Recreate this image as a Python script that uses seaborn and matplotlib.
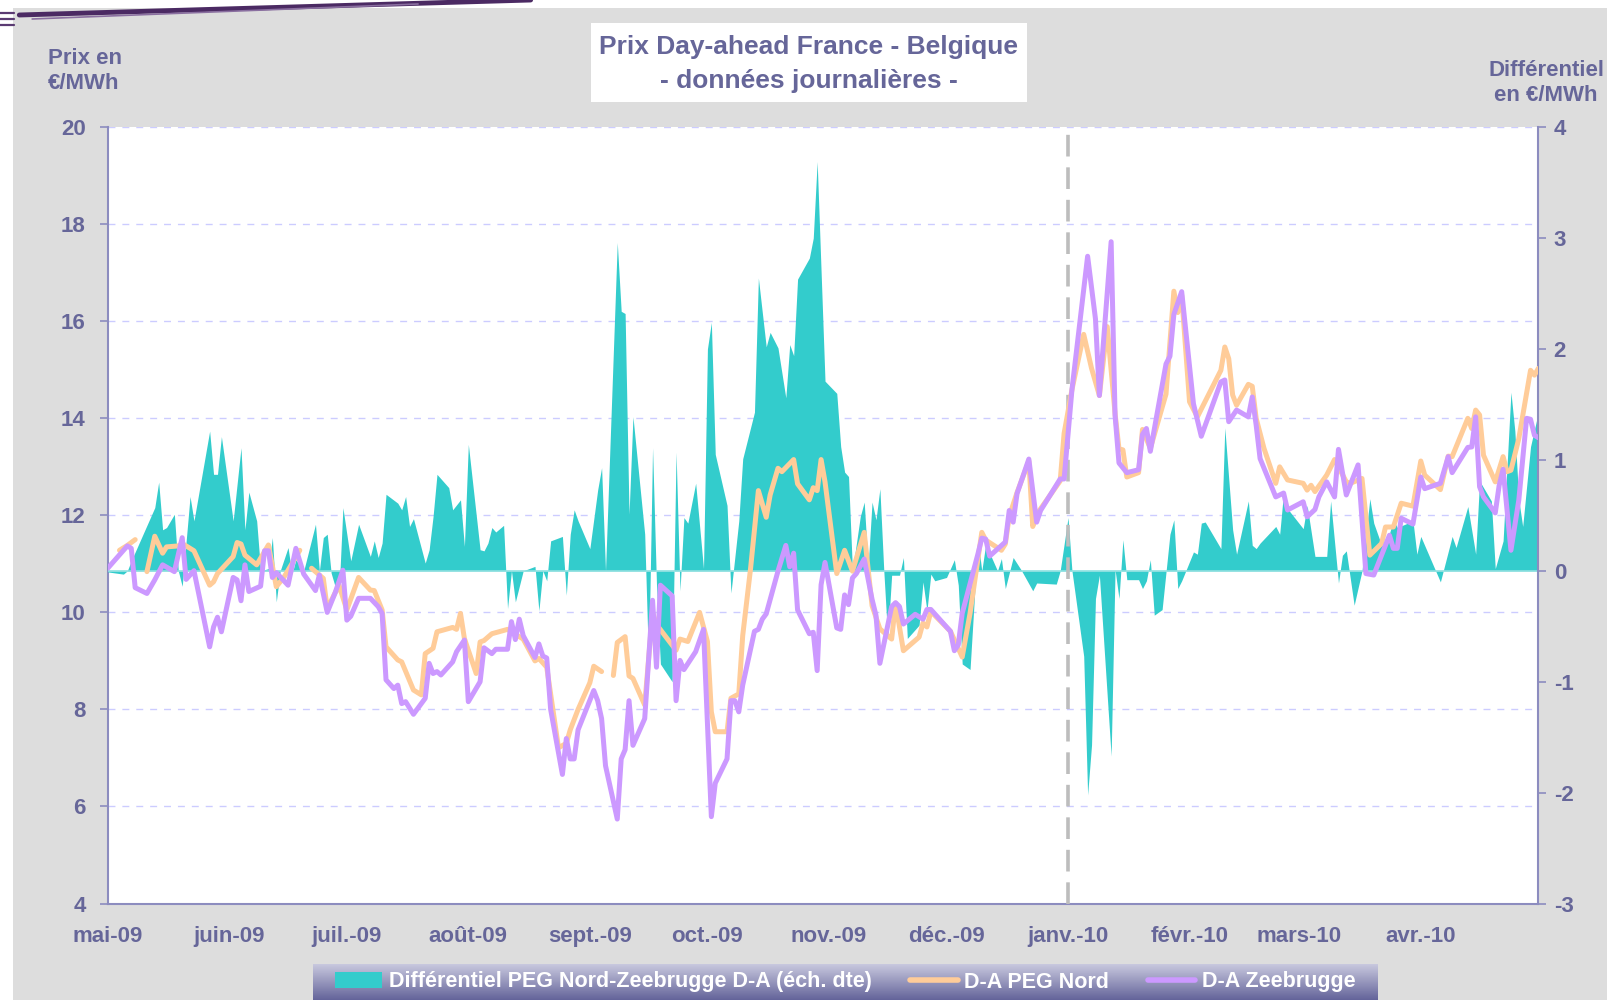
"""
Prix Day-ahead France - Belgique, données journalières (mai 2009 - avril 2010).
"""

import matplotlib

matplotlib.use("Agg")
import matplotlib.pyplot as plt
from matplotlib.colors import LinearSegmentedColormap
from matplotlib.lines import Line2D
from matplotlib.patches import Patch, Rectangle
import numpy as np
import pandas as pd
import seaborn as sns

nan = float("nan")
START = pd.Timestamp("2009-05-01")

# (jours depuis le 1er mai 2009, €/MWh)
zeebrugge_pts = [
    (0, 10.91), (5, 11.37), (6, 11.32), (7, 10.51), (10, 10.39), (12, 10.67), (14, 10.98),
    (17, 10.84), (19, 11.54), (20, 10.68), (22, 10.86), (26, 9.29), (27, 9.70), (28, 9.90),
    (29, 9.60), (32, 10.72), (33, 10.67), (34, 10.24), (35, 10.98), (36, 10.43), (39, 10.54),
    (40, 11.27), (41, 11.27), (42, 10.72), (43, 10.82), (46, 10.56), (48, 11.32), (50, 10.79),
    (53, 10.45), (54, 10.77), (56, 10.00), (58, 10.40), (60, 10.87), (61, 9.84), (62, 9.92),
    (64, 10.29), (67, 10.29), (69, 10.12), (70, 9.98), (71, 8.61), (73, 8.43), (74, 8.50),
    (75, 8.12), (76, 8.16), (78, 7.90), (81, 8.23), (82, 8.95), (83, 8.74), (84, 8.78),
    (85, 8.71), (88, 8.98), (89, 9.19), (91, 9.43), (92, 8.16), (95, 8.57), (96, 9.27),
    (98, 9.15), (99, 9.24), (102, 9.24), (103, 9.81), (104, 9.44), (105, 9.86), (106, 9.52),
    (109, 9.07), (110, 9.35), (111, 9.10), (112, 9.06), (113, 8.00), (116, 6.66), (117, 7.40),
    (118, 6.98), (119, 6.98), (120, 7.58), (124, 8.39), (125, 8.18), (126, 7.81), (127, 6.84),
    (130, 5.74), (131, 6.98), (132, 7.17), (133, 8.18), (134, 7.26), (137, 7.81), (139, 10.25),
    (140, 8.87), (141, 10.56), (144, 10.34), (145, 8.18), (146, 9.01), (147, 8.82), (150, 9.19),
    (152, 9.65), (154, 5.79), (155, 6.48), (158, 6.98), (159, 8.18), (160, 8.18), (161, 7.95),
    (162, 8.50), (165, 9.61), (166, 9.65), (167, 9.86), (168, 9.97), (171, 10.85), (173, 11.38),
    (174, 10.94), (175, 11.22), (176, 10.05), (179, 9.56), (180, 9.59), (181, 8.80), (182, 10.57),
    (183, 11.03), (186, 9.68), (187, 9.65), (188, 10.36), (189, 10.16), (190, 10.71), (191, 10.80),
    (193, 11.10), (195, 10.27), (196, 9.94), (197, 8.95), (200, 10.12), (201, 10.20), (202, 10.12),
    (203, 9.76), (206, 9.96), (208, 9.86), (209, 10.06), (210, 10.06), (215, 9.61), (216, 9.21),
    (217, 9.33), (218, 9.98), (222, 11.20), (223, 11.53), (224, 11.51), (225, 11.16), (229, 11.45),
    (230, 12.10), (231, 11.86), (232, 12.45), (235, 13.16), (237, 11.86), (238, 12.10), (243, 12.75),
    (244, 12.75), (246, 14.59), (250, 17.34), (252, 16.05), (253, 14.47), (256, 17.64), (257, 14.06),
    (258, 13.08), (260, 12.88), (263, 12.94), (264, 13.67), (265, 13.79), (266, 13.32), (270, 15.12),
    (271, 15.28), (272, 16.14), (274, 16.61), (277, 14.30), (279, 13.63), (284, 14.75), (285, 14.79),
    (286, 13.93), (288, 14.17), (291, 14.03), (292, 14.44), (293, 13.86), (294, 13.17), (298, 12.38),
    (300, 12.46), (301, 12.11), (305, 12.28), (306, 11.97), (308, 12.12), (309, 12.38), (311, 12.69),
    (313, 12.38), (314, 13.36), (316, 12.42), (319, 13.04), (321, 10.80), (323, 10.77), (327, 11.59),
    (328, 11.32), (329, 11.32), (330, 11.94), (333, 11.82), (335, 12.79), (336, 12.55), (340, 12.66),
    (342, 13.21), (343, 12.88), (347, 13.40), (348, 13.41), (349, 14.03), (350, 12.59), (351, 12.38),
    (354, 12.05), (355, 12.62), (356, 12.95), (358, 11.28), (360, 12.31), (362, 14.00), (363, 13.98),
    (364, 13.65), (365, 13.60),
]

# (jours depuis le 1er mai 2009, €/MWh) - nan = pas de cotation
peg_nord_pts = [
    (3, 11.28), (5, 11.38), (7, 11.50), (8, nan), (10, 10.84), (12, 11.57), (14, 11.22),
    (15, 11.35), (18, 11.37), (19, 11.42), (22, 11.27), (26, 10.56), (27, 10.63), (28, 10.80),
    (32, 11.15), (33, 11.44), (34, 11.41), (35, 11.18), (38, 10.98), (41, 11.39), (43, 10.53),
    (45, 10.73), (49, 11.28), (50, nan), (52, 10.91), (55, 10.70), (56, 10.08), (59, 10.56),
    (61, 10.05), (64, 10.72), (67, 10.46), (68, 10.45), (70, 10.05), (71, 9.29), (74, 9.02),
    (75, 8.98), (78, 8.40), (80, 8.30), (81, 9.15), (83, 9.26), (84, 9.60), (88, 9.69),
    (89, 9.65), (90, 9.98), (91, 9.46), (94, 8.74), (95, 9.39), (96, 9.42), (98, 9.56),
    (102, 9.65), (103, 9.60), (106, 9.45), (109, 9.00), (110, 9.05), (112, 8.87), (115, 7.21),
    (117, 7.30), (118, 7.58), (120, 8.00), (123, 8.55), (124, 8.89), (126, 8.78), (127, nan),
    (129, 8.70), (130, 9.38), (132, 9.50), (133, 8.69), (134, 8.64), (137, 8.09), (139, 10.00),
    (140, 9.75), (145, 9.22), (146, 9.45), (148, 9.40), (151, 10.00), (153, 9.40), (154, 7.95),
    (155, 7.54), (158, 7.54), (159, 8.23), (161, 8.32), (162, 9.52), (164, 10.90), (166, 12.51),
    (168, 11.96), (169, 12.42), (171, 12.97), (172, 12.90), (175, 13.15), (176, 12.65), (179, 12.32),
    (180, 12.57), (181, 12.51), (182, 13.15), (183, 12.69), (186, 10.80), (188, 11.28), (190, 10.85),
    (193, 11.65), (195, 10.14), (197, 9.66), (200, 9.45), (201, 10.19), (203, 9.21), (207, 9.49),
    (208, 9.78), (209, 9.70), (210, 10.02), (215, 9.61), (218, 9.08), (220, 9.98), (223, 11.65),
    (224, 11.49), (228, 11.28), (229, 11.41), (230, 11.98), (232, 12.47), (235, 13.12), (236, 11.77),
    (237, 12.02), (243, 12.71), (244, 13.69), (246, 14.59), (249, 15.73), (251, 15.03), (253, 14.47),
    (255, 15.89), (257, 14.10), (258, 13.37), (259, 13.35), (260, 12.79), (263, 12.88), (264, 13.77),
    (266, 13.38), (270, 14.50), (272, 16.62), (273, 16.18), (274, 16.54), (276, 14.34), (278, 14.03),
    (284, 14.99), (285, 15.47), (286, 15.23), (287, 14.48), (288, 14.27), (291, 14.70), (292, 14.66),
    (293, 14.00), (295, 13.38), (298, 12.66), (299, 13.00), (301, 12.73), (305, 12.66), (306, 12.52),
    (307, 12.62), (308, 12.49), (311, 12.83), (313, 13.15), (316, 12.69), (317, 12.66), (320, 12.76),
    (322, 11.18), (325, 11.42), (326, 11.76), (328, 11.76), (330, 12.25), (333, 12.19), (335, 13.12),
    (336, 12.83), (340, 12.53), (342, 13.22), (343, 13.21), (347, 14.00), (348, 13.79), (349, 14.17),
    (350, 14.07), (351, 13.24), (354, 12.69), (356, 13.21), (357, 12.90), (358, 12.93), (360, 13.58),
    (363, 14.99), (364, 14.89), (365, 15.03),
]

# (jours depuis le 1er mai 2009, €/MWh) - échelle de droite
differentiel_pts = [
    (0, -0.01), (4, -0.03), (5, 0.0), (6, 0.09), (11, 0.49), (12, 0.57), (13, 0.80), (14, 0.37),
    (15, 0.39), (17, 0.51), (18, 0.0), (19, -0.14), (21, 0.67), (22, 0.45), (26, 1.26), (27, 0.87),
    (28, 0.87), (29, 1.21), (32, 0.45), (34, 1.11), (35, 0.37), (36, 0.71), (38, 0.45), (39, 0.0),
    (41, 0.02), (42, 0.30), (43, -0.28), (44, 0.0), (46, 0.21), (47, -0.03), (48, 0.10), (50, 0.0),
    (53, 0.42), (54, 0.0), (55, 0.30), (56, 0.33), (57, -0.02), (58, -0.14), (59, -0.20), (60, 0.57),
    (62, 0.09), (64, 0.42), (67, 0.13), (68, 0.27), (69, 0.12), (70, 0.25), (71, 0.69), (74, 0.61),
    (75, 0.55), (76, 0.67), (77, 0.40), (78, 0.47), (81, 0.07), (82, 0.19), (83, 0.49), (84, 0.87),
    (87, 0.75), (88, 0.55), (90, 0.64), (91, 0.22), (92, 1.14), (95, 0.19), (96, 0.18), (97, 0.25),
    (98, 0.39), (99, 0.35), (101, 0.41), (102, -0.34), (103, 0.0), (104, -0.28), (106, 0.0),
    (109, 0.04), (110, -0.36), (111, 0.0), (112, -0.09), (113, 0.27), (116, 0.31), (117, -0.22),
    (118, 0.33), (119, 0.55), (120, 0.45), (123, 0.20), (125, 0.73), (126, 0.93), (127, 0.0),
    (130, 2.96), (131, 2.34), (132, 2.32), (133, 0.51), (134, 1.39), (137, 0.33), (138, -0.86),
    (139, 1.11), (140, -0.12), (141, -0.84), (144, -1.00), (145, 1.07), (146, -0.18), (147, 0.48),
    (148, 0.43), (150, 0.79), (152, 0.02), (153, 2.00), (154, 2.24), (155, 1.05), (158, 0.59),
    (159, -0.20), (161, 0.45), (162, 1.01), (165, 1.43), (166, 2.64), (168, 2.02), (169, 2.15),
    (171, 2.01), (173, 1.56), (174, 2.04), (175, 1.94), (176, 2.63), (179, 2.82), (180, 3.00),
    (181, 3.69), (183, 1.71), (186, 1.60), (187, 1.12), (188, 0.89), (189, 0.85), (190, 0.0),
    (192, 0.49), (193, 0.62), (194, 0.04), (195, 0.62), (196, 0.46), (197, 0.74), (198, 0.0),
    (199, -0.61), (200, -0.04), (202, -0.04), (203, 0.12), (204, -0.61), (207, -0.49), (208, -0.10),
    (209, -0.36), (210, -0.03), (211, -0.09), (214, -0.06), (216, 0.10), (217, -0.13), (218, -0.84),
    (220, -0.89), (222, 0.28), (223, 0.0), (224, 0.24), (227, 0.0), (228, 0.11), (229, -0.16),
    (231, 0.12), (233, 0.01), (236, -0.18), (237, -0.11), (242, -0.12), (243, 0.0), (245, 0.48),
    (246, 0.0), (249, -0.77), (250, -2.02), (251, -1.57), (252, -0.25), (253, -0.04), (256, -1.67),
    (257, 0.01), (258, -0.25), (259, 0.28), (260, -0.08), (263, -0.08), (264, -0.16), (265, -0.09),
    (266, 0.10), (267, -0.40), (269, -0.35), (271, 0.33), (272, 0.46), (273, -0.16), (274, -0.09),
    (277, 0.17), (278, 0.15), (279, 0.43), (280, 0.44), (284, 0.20), (285, 1.29), (287, 0.37),
    (288, 0.15), (291, 0.63), (292, 0.23), (293, 0.20), (294, 0.25), (298, 0.40), (299, 0.33),
    (300, 0.71), (301, 0.56), (305, 0.38), (306, 0.59), (308, 0.13), (311, 0.13), (312, 0.63),
    (314, -0.11), (315, 0.14), (316, 0.18), (318, -0.31), (320, 0.0), (322, 0.65), (323, 0.43),
    (325, 0.23), (326, 0.21), (328, 0.46), (329, 0.39), (333, 0.45), (334, 0.15), (335, 0.31),
    (340, -0.10), (343, 0.31), (344, 0.21), (347, 0.58), (349, 0.15), (350, 0.81), (353, 0.63),
    (354, 0.02), (356, 0.27), (358, 1.61), (359, 1.26), (360, 0.64), (361, 0.40), (363, 1.12),
    (365, 1.43),
]

month_labels = ["mai-09", "juin-09", "juil.-09", "août-09", "sept.-09", "oct.-09", "nov.-09",
                "déc.-09", "janv.-10", "févr.-10", "mars-10", "avr.-10", ""]
price_ticks = [4, 6, 8, 10, 12, 14, 16, 18, 20]
diff_ticks = [-3, -2, -1, 0, 1, 2, 3, 4]

TEAL = "#33CCCC"
ORANGE = "#FFCC99"
PURPLE = "#CC99FF"
TXT = "#666699"
SPINE = "#8C8CBF"
GRID = "#CCCCFF"


def to_frame(points, col):
    days, vals = zip(*points)
    return pd.DataFrame({"date": START + pd.to_timedelta(list(days), unit="D"), col: list(vals)})


def draw_segments(df, col, ax, color):
    # the series has holes (no quote), draw each piece on its own
    missing = df[col].isna()
    groups = missing.cumsum()[~missing]
    for _, seg in df[~missing].groupby(groups):
        sns.lineplot(data=seg, x="date", y=col, ax=ax, color=color, linewidth=3.6,
                     legend=False, zorder=3)


zb = to_frame(zeebrugge_pts, "zeebrugge")
peg = to_frame(peg_nord_pts, "peg_nord")
diff = to_frame(differentiel_pts, "differentiel")
month_starts = pd.date_range("2009-05-01", "2010-05-01", freq="MS")

sns.set_style("white")
plt.rcParams["font.family"] = ["Liberation Sans", "DejaVu Sans"]
plt.rcParams["font.weight"] = "bold"
plt.rcParams["axes.unicode_minus"] = False

fig = plt.figure(figsize=(16.08, 10), dpi=100, facecolor="#DDDDDD")

# slide decoration around the chart
fig.patches.append(Rectangle((0, 0.992), 1, 0.008, transform=fig.transFigure,
                             facecolor="white", edgecolor="none", zorder=-5))
fig.patches.append(Rectangle((0, 0), 0.0083, 1, transform=fig.transFigure,
                             facecolor="white", edgecolor="none", zorder=-5))
fig.lines.append(Line2D([0.012, 0.33], [0.985, 1.0], transform=fig.transFigure,
                        color="#4B2A63", lw=3.5, zorder=2))
fig.lines.append(Line2D([0.02, 0.26], [0.981, 0.996], transform=fig.transFigure,
                        color="#8A6FA0", lw=1.2, zorder=2))
for yy in (0.987, 0.981, 0.975):
    fig.lines.append(Line2D([0, 0.009], [yy, yy], transform=fig.transFigure,
                            color="#5A3A72", lw=1.6, zorder=2))

ax = fig.add_axes([0.0670, 0.0965, 0.8897, 0.7763])
ax.set_facecolor("white")
ax_diff = ax.twinx()
ax_line = ax.twinx()

# price axis (left) with the grid
ax.set_ylim(4, 20)
ax.set_yticks(price_ticks)
ax.grid(axis="y", color=GRID, linestyle=(0, (5, 5)), linewidth=1)
ax.grid(axis="x", visible=False)
ax.set_xlim(month_starts[0], month_starts[-1])
ax.set_xticks(month_starts)
ax.set_xticklabels(month_labels)
ax.tick_params(axis="x", direction="out", length=6, width=1.2, color=SPINE,
               labelcolor=TXT, labelsize=16, pad=10)
ax.tick_params(axis="y", direction="out", length=6, width=1.2, color=SPINE,
               labelcolor=TXT, labelsize=16, pad=10, left=True)
for side in ("top", "right"):
    ax.spines[side].set_visible(False)
for side in ("left", "bottom"):
    ax.spines[side].set_color(SPINE)
    ax.spines[side].set_linewidth(1.5)
ax.set_xlabel("")
ax.set_ylabel("")

# spread (right axis), drawn as an area under the price lines
ax_diff.fill_between(diff["date"], 0, diff["differentiel"], color=TEAL, linewidth=0, zorder=1)
ax_diff.axhline(0, color="#8FE0E0", linewidth=1.2, zorder=1)
ax_diff.set_ylim(-3, 4)
ax_diff.set_yticks(diff_ticks)
ax_diff.tick_params(axis="y", direction="out", length=6, width=1.2, color=SPINE,
                    labelcolor=TXT, labelsize=16, pad=5, right=True)
for side in ("top", "left", "bottom"):
    ax_diff.spines[side].set_visible(False)
ax_diff.spines["right"].set_color(SPINE)
ax_diff.spines["right"].set_linewidth(1.5)
ax_diff.set_ylabel("")

# day-ahead prices
draw_segments(peg, "peg_nord", ax_line, ORANGE)
draw_segments(zb, "zeebrugge", ax_line, PURPLE)
ax_line.axvline(pd.Timestamp("2010-01-01"), color="#BDBDBD", linewidth=2.6,
                linestyle=(0, (6, 3)), zorder=2)
ax_line.set_ylim(4, 20)
ax_line.set_xlim(month_starts[0], month_starts[-1])
ax_line.yaxis.set_visible(False)
for side in ax_line.spines:
    ax_line.spines[side].set_visible(False)
ax_line.set_xlabel("")
ax_line.set_ylabel("")

# title box
fig.patches.append(Rectangle((0.3674, 0.8985), 0.2711, 0.0789, transform=fig.transFigure,
                             facecolor="white", edgecolor="none", zorder=-4))
fig.text(0.5031, 0.953, "Prix Day-ahead France - Belgique", ha="center", va="center",
         fontsize=19, color=TXT, fontweight="bold")
fig.text(0.5031, 0.919, "- données journalières -", ha="center", va="center",
         fontsize=19, color=TXT, fontweight="bold")

# axis captions
fig.text(0.030, 0.929, "Prix en\n€/MWh", ha="left", va="center", fontsize=16,
         color=TXT, fontweight="bold", linespacing=1.25)
fig.text(0.9615, 0.917, "Différentiel\nen €/MWh", ha="center", va="center", fontsize=16,
         color=TXT, fontweight="bold", linespacing=1.25, multialignment="center")

# legend band with a vertical gradient
ax_leg = fig.add_axes([0.1947, 0.0, 0.6617, 0.036])
band = LinearSegmentedColormap.from_list("band", ["#C8C8DE", "#64649A"])
ax_leg.imshow(np.linspace(0, 1, 64).reshape(-1, 1), aspect="auto", cmap=band,
              extent=[0, 1, 0, 1])
ax_leg.axis("off")
handles = [
    Patch(facecolor=TEAL, edgecolor="none"),
    Line2D([], [], color=ORANGE, linewidth=4),
    Line2D([], [], color=PURPLE, linewidth=4),
]
labels = ["Différentiel PEG Nord-Zeebrugge D-A (éch. dte)", "D-A PEG Nord", "D-A Zeebrugge"]
ax_leg.legend(handles, labels, loc="center", ncol=3, frameon=False, labelcolor="white",
              prop={"weight": "bold", "size": 15.5}, handlelength=2.2, handletextpad=0.3,
              columnspacing=1.8, borderaxespad=0)

fig.savefig("out.png", dpi=100, facecolor=fig.get_facecolor())
